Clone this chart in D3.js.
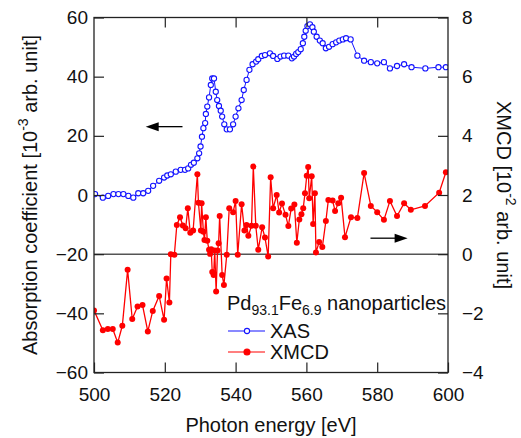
<!DOCTYPE html>
<html>
<head>
<meta charset="utf-8">
<script src="https://cdn.jsdelivr.net/npm/d3@7"></script>
<style>
  body { margin: 0; background: #fff; }
  text { font-family: "Liberation Sans", Arial, sans-serif; }
</style>
</head>
<body>
<svg id="chart" width="521" height="438"></svg>
<script>
// XAS: photon energy [eV] and absorption [10^-3 arb. unit]
const xasEnergy = [500.3,502.5,504.0,505.5,506.9,508.3,509.7,511.1,512.5,513.9,515.3,516.7,518.4,519.8,520.7,521.7,523.1,524.5,525.7,526.6,527.4,528.2,529.2,529.7,530.1,530.5,530.9,531.4,531.6,532.0,532.5,533.0,533.4,533.9,534.4,534.8,535.3,535.8,536.2,536.8,537.5,538.4,539.3,540.0,540.8,541.7,542.3,543.1,543.9,544.8,545.8,546.4,547.4,548.3,549.7,550.6,551.8,552.7,553.7,554.9,555.9,556.5,557.1,557.7,558.4,559.0,559.4,559.8,560.3,561.0,561.7,562.1,562.9,563.8,564.6,565.5,566.4,567.4,568.4,569.3,570.3,571.2,572.5,574.4,576.3,578.2,580.0,581.9,583.6,585.6,587.6,589.7,593.6,597.3,599.4];
const xasValue = [0.3,-0.9,-0.3,0.3,0.3,0.3,-0.3,-0.9,0.6,0.6,1.4,3.1,4.8,5.9,6.6,7.0,7.9,8.5,8.5,9.0,10.2,10.9,12.4,14.1,16.4,19.7,22.6,24.3,27.4,29.9,33.0,37.2,39.4,39.4,34.9,32.1,30.1,28.5,26.5,23.9,22.2,22.2,23.9,26.5,29.3,32.1,35.5,38.9,42.3,44.2,45.1,45.9,47.0,47.3,47.9,47.0,46.0,46.8,47.1,47.1,46.2,46.8,47.7,48.3,49.3,51.3,53.5,55.5,57.1,57.7,56.7,55.2,53.5,52.2,51.3,49.6,50.1,51.0,51.6,52.2,52.6,53.0,52.6,47.1,45.4,44.9,44.5,44.9,42.8,43.6,44.2,43.2,42.8,43.2,43.2];

// XMCD: photon energy [eV] and XMCD [10^-2 arb. unit]
const xmcdEnergy = [500.0,502.5,503.9,505.3,506.7,508.0,509.5,510.8,512.3,513.7,515.2,516.6,518.4,519.8,520.5,521.3,521.7,522.7,523.4,524.3,525.1,525.9,526.5,527.2,528.0,529.2,529.5,530.2,530.4,530.9,531.2,531.6,532.0,532.5,532.8,533.1,533.4,533.8,534.1,534.5,534.9,535.2,535.5,536.2,536.7,537.5,538.2,539.3,540.0,540.6,541.7,542.5,543.1,543.6,544.5,545.0,545.7,546.4,547.5,548.3,549.2,549.9,550.6,551.6,552.3,553.1,554.1,554.9,555.7,556.6,557.3,558.0,558.6,559.1,559.6,560.1,560.5,560.8,561.5,561.9,562.4,562.7,563.6,564.5,565.5,566.2,567.4,568.1,569.0,569.8,570.9,572.6,574.4,576.3,578.2,580.0,581.9,583.6,585.6,587.6,589.5,593.5,597.5,599.4];
const xmcdValue = [-1.9,-2.57,-2.53,-2.53,-2.99,-2.42,-0.53,-2.19,-1.77,-1.72,-2.61,-1.92,-1.41,-2.22,-0.82,-1.63,0.0,-0.02,0.99,1.25,0.97,0.88,1.55,0.72,0.80,2.70,1.74,0.80,1.72,0.76,0.48,1.25,0.45,0.15,0.01,0.17,-0.6,-0.70,0.12,-1.26,0.12,0.37,1.29,-0.70,-1.04,-0.02,1.55,1.42,1.80,-0.02,1.69,0.80,0.99,0.62,0.96,2.96,0.96,0.15,0.91,0.56,-0.08,2.60,1.55,2.00,1.41,1.71,1.33,0.95,1.54,1.68,0.39,1.17,1.35,1.55,2.06,2.65,2.95,1.89,2.63,1.02,2.06,0.06,0.41,0.24,1.12,1.83,1.81,1.46,1.72,1.91,0.57,1.25,1.22,2.74,1.63,1.42,1.16,1.80,1.29,1.72,1.50,1.63,2.08,2.77];

const xTicks = [500, 520, 540, 560, 580, 600];
const yLeftTicks = [-60, -40, -20, 0, 20, 40, 60];
const yRightTicks = [-4, -2, 0, 2, 4, 6, 8];

// arrows: [x from, x to, y] (left arrow in left units, right arrow in right units)
const leftArrow = [525.0, 514.6, 23.1];
const rightArrow = [578.1, 588.6, 0.54];

const svg = d3.select("#chart");
const L = 94, R = 448, T = 17.5, B = 372.5;

const x = d3.scaleLinear().domain([500, 600]).range([L, R]);
const yL = d3.scaleLinear().domain([-60, 60]).range([B, T]);
const yR = d3.scaleLinear().domain([-4, 8]).range([B, T]);

const blue = "#1414ff", red = "#ff0000";

svg.append("defs").append("clipPath").attr("id", "clip")
  .append("rect").attr("x", L).attr("y", T).attr("width", R - L).attr("height", B - T);

// zero line of XMCD
svg.append("line")
  .attr("x1", L).attr("x2", R).attr("y1", yR(0)).attr("y2", yR(0))
  .attr("stroke", "#555").attr("stroke-width", 1.5);

const plot = svg.append("g").attr("clip-path", "url(#clip)");

// XMCD
const xmcd = xmcdEnergy.map((e, i) => [e, xmcdValue[i]]);
plot.append("path").datum(xmcd)
  .attr("fill", "none").attr("stroke", red).attr("stroke-width", 1.3)
  .attr("d", d3.line().x(d => x(d[0])).y(d => yR(d[1])));
plot.selectAll("circle.xmcd").data(xmcd).join("circle")
  .attr("class", "xmcd")
  .attr("cx", d => x(d[0])).attr("cy", d => yR(d[1])).attr("r", 3)
  .attr("fill", red);

// XAS
const xas = xasEnergy.map((e, i) => [e, xasValue[i]]);
plot.append("path").datum(xas)
  .attr("fill", "none").attr("stroke", blue).attr("stroke-width", 1)
  .attr("d", d3.line().x(d => x(d[0])).y(d => yL(d[1])));
plot.selectAll("circle.xas").data(xas).join("circle")
  .attr("class", "xas")
  .attr("cx", d => x(d[0])).attr("cy", d => yL(d[1])).attr("r", 2.6)
  .attr("fill", "#fff").attr("stroke", blue).attr("stroke-width", 1.1);

// axes (ticks inside)
const fs = "19px";
function styleAxis(g) {
  g.select(".domain").remove();
  g.selectAll(".tick line").attr("stroke", "#222").attr("stroke-width", 1.2);
  g.selectAll(".tick text").attr("font-size", fs).attr("fill", "#111")
    .attr("font-family", "Liberation Sans, Arial, sans-serif");
}
svg.append("g").attr("transform", `translate(0,${B})`)
  .call(d3.axisBottom(x).tickValues(xTicks).tickSizeInner(-10).tickSizeOuter(0).tickPadding(15))
  .call(styleAxis);
svg.append("g").attr("transform", `translate(0,${T})`)
  .call(d3.axisTop(x).tickValues(xTicks.slice(1, -1)).tickSizeInner(-10).tickSizeOuter(0).tickFormat(""))
  .call(styleAxis);
svg.append("g").attr("transform", `translate(${L},0)`)
  .call(d3.axisLeft(yL).tickValues(yLeftTicks).tickSizeInner(-10).tickSizeOuter(0).tickPadding(6))
  .call(styleAxis);
svg.append("g").attr("transform", `translate(${R},0)`)
  .call(d3.axisRight(yR).tickValues(yRightTicks).tickSizeInner(-10).tickSizeOuter(0).tickPadding(14))
  .call(styleAxis);

// frame
svg.append("rect").attr("x", L).attr("y", T).attr("width", R - L).attr("height", B - T)
  .attr("fill", "none").attr("stroke", "#222").attr("stroke-width", 1.3);

// arrows
function arrow(x1, x2, y) {
  const dir = Math.sign(x2 - x1);
  svg.append("line").attr("x1", x1).attr("x2", x2 - dir * 10).attr("y1", y).attr("y2", y)
    .attr("stroke", "#000").attr("stroke-width", 1.3);
  svg.append("path")
    .attr("d", `M${x2},${y} L${x2 - dir * 13},${y - 4.5} L${x2 - dir * 13},${y + 4.5} Z`)
    .attr("fill", "#000");
}
arrow(x(leftArrow[0]), x(leftArrow[1]), yL(leftArrow[2]));
arrow(x(rightArrow[0]), x(rightArrow[1]), yR(rightArrow[2]));

// axis titles
svg.append("text").attr("x", (L + R) / 2).attr("y", 432).attr("text-anchor", "middle")
  .attr("font-size", "20px").attr("fill", "#111").text("Photon energy [eV]");

const lt = svg.append("text").attr("transform", `translate(37,${(T + B) / 2}) rotate(-90)`)
  .attr("text-anchor", "middle").attr("font-size", "20px").attr("fill", "#111");
lt.append("tspan").text("Absorption coefficient [10");
lt.append("tspan").attr("font-size", "14px").attr("dy", -9).text("-3");
lt.append("tspan").attr("dy", 9).text(" arb. unit]");

const rt = svg.append("text").attr("transform", `translate(497,${(T + B) / 2}) rotate(90)`)
  .attr("text-anchor", "middle").attr("font-size", "20px").attr("fill", "#111");
rt.append("tspan").text("XMCD [10");
rt.append("tspan").attr("font-size", "14px").attr("dy", -9).text("-2");
rt.append("tspan").attr("dy", 9).text(" arb. unit]");

// legend
const lg = svg.append("text").attr("x", 227).attr("y", 310).attr("font-size", "20px").attr("fill", "#111");
lg.append("tspan").text("Pd");
lg.append("tspan").attr("font-size", "14px").attr("dy", 5).text("93.1");
lg.append("tspan").attr("dy", -5).text("Fe");
lg.append("tspan").attr("font-size", "14px").attr("dy", 5).text("6.9");
lg.append("tspan").attr("dy", -5).text(" nanoparticles");

const items = [
  { name: "XAS", color: blue, open: true, y: 331 },
  { name: "XMCD", color: red, open: false, y: 352 }
];
items.forEach(it => {
  svg.append("line").attr("x1", 228).attr("x2", 265).attr("y1", it.y).attr("y2", it.y)
    .attr("stroke", it.color).attr("stroke-width", 1.2);
  svg.append("circle").attr("cx", 247).attr("cy", it.y).attr("r", it.open ? 2.6 : 3)
    .attr("fill", it.open ? "#fff" : it.color).attr("stroke", it.color).attr("stroke-width", 1.1);
  svg.append("text").attr("x", 270).attr("y", it.y + 7).attr("font-size", "20px")
    .attr("fill", "#111").text(it.name);
});
</script>
</body>
</html>
